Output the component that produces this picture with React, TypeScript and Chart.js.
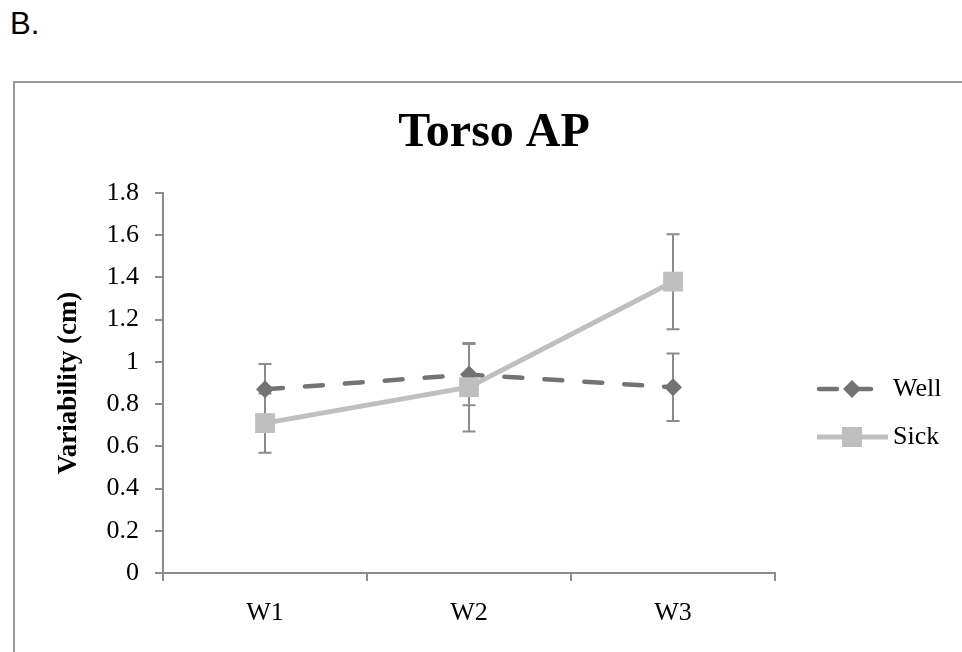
import React, { useEffect, useRef } from "react";
import { Chart, registerables } from "chart.js";

Chart.register(...registerables);

const categories = ["W1", "W2", "W3"];
const wellValues = [0.87, 0.94, 0.88];
const wellErrors = [0.12, 0.145, 0.16];
const sickValues = [0.71, 0.88, 1.38];
const sickErrors = [0.14, 0.21, 0.225];
const yTickLabels = ["0", "0.2", "0.4", "0.6", "0.8", "1", "1.2", "1.4", "1.6", "1.8"];
const chartTitle = "Torso AP";
const yAxisTitle = "Variability (cm)";
const seriesNames = ["Well", "Sick"];

const WELL_COLOR = "#737373";
const SICK_COLOR = "#bfbfbf";
const AXIS_COLOR = "#8c8c8c";
const TICK_FONT = "'Liberation Serif', 'DejaVu Serif', serif";

const errorBarPlugin = {
  id: "errorBars",
  beforeDatasetsDraw(chart: any) {
    const ctx = chart.ctx;
    const y = chart.scales.y;
    const errs = [wellErrors, sickErrors];
    ctx.save();
    ctx.strokeStyle = AXIS_COLOR;
    ctx.lineWidth = 2;
    chart.data.datasets.forEach((ds: any, di: number) => {
      const meta = chart.getDatasetMeta(di);
      meta.data.forEach((pt: any, i: number) => {
        const v = ds.data[i];
        const e = errs[di][i];
        const x = pt.x;
        const yTop = y.getPixelForValue(v + e);
        const yBot = y.getPixelForValue(v - e);
        ctx.beginPath();
        ctx.moveTo(x, yTop);
        ctx.lineTo(x, yBot);
        ctx.moveTo(x - 6.5, yTop);
        ctx.lineTo(x + 6.5, yTop);
        ctx.moveTo(x - 6.5, yBot);
        ctx.lineTo(x + 6.5, yBot);
        ctx.stroke();
      });
    });
    ctx.restore();
  },
};

const titleLegendPlugin = {
  id: "titleLegend",
  afterDraw(chart: any) {
    const ctx = chart.ctx;
    const area = chart.chartArea;
    ctx.save();
    // title
    ctx.fillStyle = "#000";
    ctx.font = "bold 48px 'Liberation Serif', serif";
    ctx.textAlign = "center";
    ctx.textBaseline = "middle";
    ctx.fillText(chartTitle, chart.width / 2, 51);

    // legend
    const cy = (area.top + area.bottom) / 2;
    const lx0 = area.right + 44;
    const mx = area.right + 77;
    const tx = area.right + 118;
    const y1 = cy + 6;
    const y2 = cy + 54;

    // Well
    ctx.strokeStyle = WELL_COLOR;
    ctx.lineWidth = 4.5;
    ctx.lineCap = "round";
    ctx.setLineDash([18, 22]);
    ctx.beginPath();
    ctx.moveTo(lx0, y1);
    ctx.lineTo(area.right + 96, y1);
    ctx.stroke();
    ctx.setLineDash([]);
    ctx.fillStyle = WELL_COLOR;
    ctx.beginPath();
    ctx.moveTo(mx - 9, y1);
    ctx.lineTo(mx, y1 - 9);
    ctx.lineTo(mx + 9, y1);
    ctx.lineTo(mx, y1 + 9);
    ctx.closePath();
    ctx.fill();

    // Sick
    ctx.strokeStyle = SICK_COLOR;
    ctx.lineWidth = 5;
    ctx.lineCap = "butt";
    ctx.beginPath();
    ctx.moveTo(area.right + 42, y2);
    ctx.lineTo(area.right + 113, y2);
    ctx.stroke();
    ctx.fillStyle = SICK_COLOR;
    ctx.fillRect(mx - 10, y2 - 10, 20, 20);

    ctx.fillStyle = "#000";
    ctx.font = "26px " + TICK_FONT;
    ctx.textAlign = "left";
    ctx.textBaseline = "middle";
    ctx.fillText(seriesNames[0], tx, y1);
    ctx.fillText(seriesNames[1], tx, y2);
    ctx.restore();
  },
};

export default function App() {
  const canvasRef = useRef<HTMLCanvasElement | null>(null);

  useEffect(() => {
    const canvas = canvasRef.current;
    if (!canvas) return;
    const chart = new Chart(canvas, {
      type: "line",
      data: {
        labels: categories,
        datasets: [
          {
            label: seriesNames[0],
            data: wellValues,
            borderColor: WELL_COLOR,
            backgroundColor: WELL_COLOR,
            borderWidth: 4.5,
            borderDash: [18, 22],
            borderCapStyle: "round",
            pointStyle: "rectRot",
            pointRadius: 9,
            pointBorderWidth: 0,
            pointBackgroundColor: WELL_COLOR,
            tension: 0,
            order: 2,
          },
          {
            label: seriesNames[1],
            data: sickValues,
            borderColor: SICK_COLOR,
            backgroundColor: SICK_COLOR,
            borderWidth: 5,
            pointStyle: "rect",
            pointRadius: 14,
            pointBorderWidth: 0,
            pointBackgroundColor: SICK_COLOR,
            tension: 0,
            order: 1,
          },
        ],
      },
      options: {
        responsive: false,
        animation: false,
        devicePixelRatio: 1,
        layout: { padding: { top: 110, right: 198, left: 0, bottom: 0 } },
        plugins: {
          legend: { display: false },
          title: { display: false },
          tooltip: { enabled: false },
        },
        scales: {
          x: {
            type: "category",
            offset: true,
            grid: {
              offset: true,
              drawOnChartArea: false,
              drawTicks: true,
              tickLength: 8,
              color: AXIS_COLOR,
              lineWidth: 2,
            },
            border: { display: true, color: AXIS_COLOR, width: 2 },
            ticks: {
              color: "#000",
              padding: 17,
              font: { family: TICK_FONT, size: 26 },
              maxRotation: 0,
            },
            afterFit(scale: any) {
              scale.height = 79;
            },
          },
          y: {
            min: 0,
            max: 1.8,
            grid: {
              drawOnChartArea: false,
              drawTicks: true,
              tickLength: 8,
              color: AXIS_COLOR,
              lineWidth: 2,
            },
            border: { display: true, color: AXIS_COLOR, width: 2 },
            ticks: {
              stepSize: 0.2,
              color: "#000",
              padding: 16,
              font: { family: TICK_FONT, size: 26 },
              callback: (_v: any, i: number) => yTickLabels[i],
            },
            title: {
              display: true,
              text: yAxisTitle,
              color: "#000",
              font: { family: "'Liberation Serif', serif", size: 27, weight: "bold" },
              padding: { top: 38, bottom: 0 },
            },
            afterFit(scale: any) {
              scale.width = 148;
            },
          },
        },
      },
      plugins: [errorBarPlugin, titleLegendPlugin],
    } as any);
    return () => chart.destroy();
  }, []);

  return (
    <div
      style={{
        position: "absolute",
        left: 0,
        top: 0,
        width: 962,
        height: 652,
        overflow: "hidden",
        background: "#fff",
      }}
    >
      <div
        style={{
          position: "absolute",
          left: 10,
          top: 8,
          fontFamily: "'Liberation Sans', Arial, sans-serif",
          fontSize: 31,
          lineHeight: "31px",
          color: "#000",
        }}
      >
        B.
      </div>
      <div
        style={{
          position: "absolute",
          left: 13,
          top: 81,
          width: 1100,
          height: 800,
          border: "2px solid #999",
          boxSizing: "border-box",
        }}
      />
      <canvas
        ref={canvasRef}
        width={958}
        height={569}
        style={{ position: "absolute", left: 15, top: 83, width: 958, height: 569 }}
      />
    </div>
  );
}
